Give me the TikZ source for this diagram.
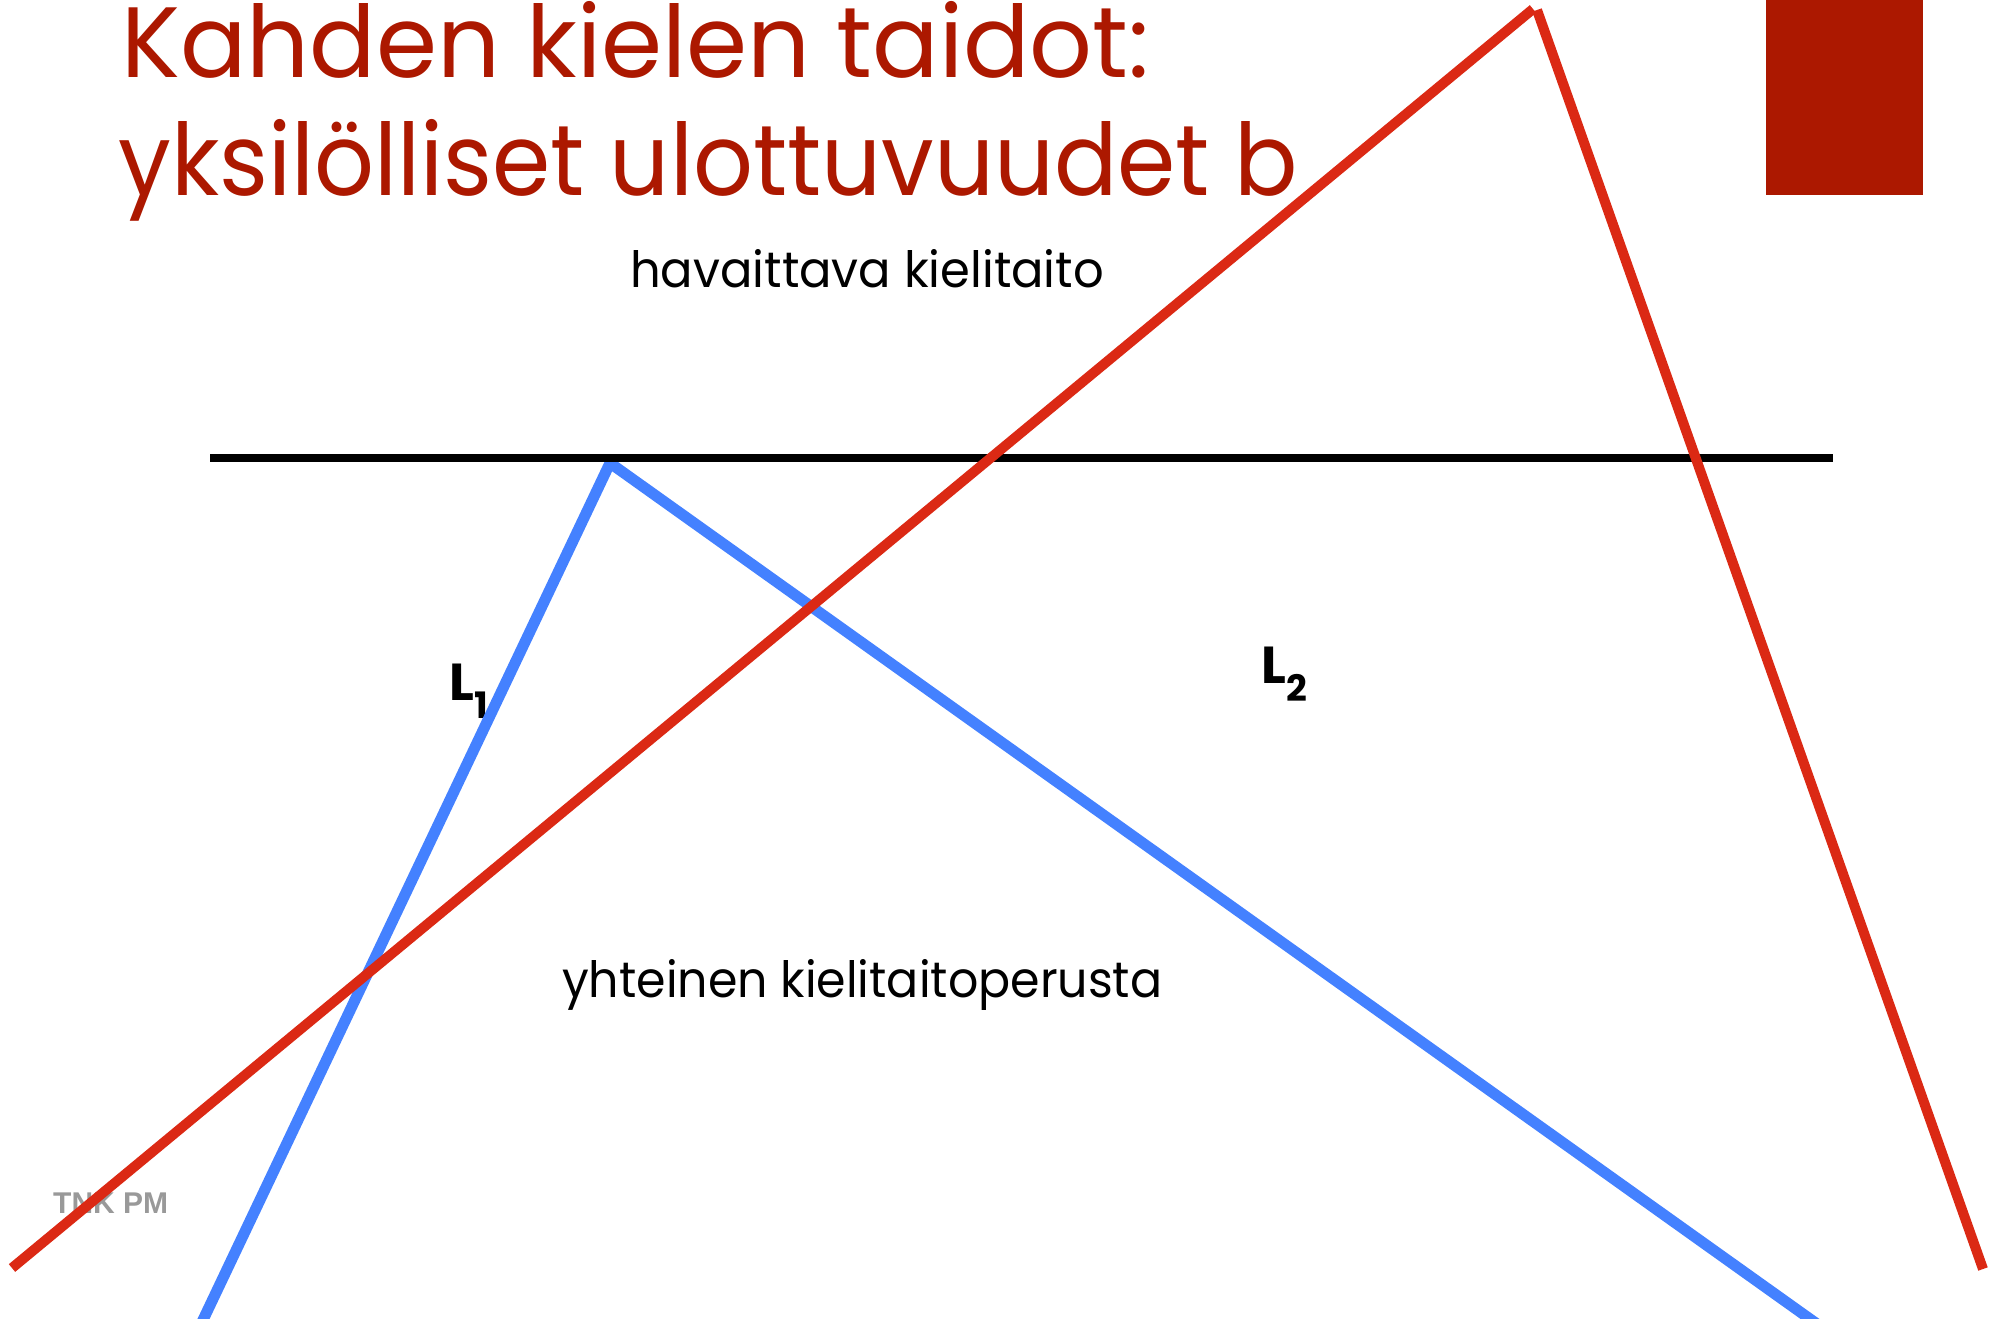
\documentclass[tikz,border=0pt]{standalone}
\usepackage{fontspec}
\usepackage{graphicx}
\setmainfont{Poppins}
\newfontfamily\tnkfont{Liberation Sans}
\definecolor{titlered}{HTML}{AC1800}
\definecolor{linered}{HTML}{DB2914}
\definecolor{lineblue}{HTML}{4481FF}
\definecolor{tnkgray}{HTML}{999999}
\begin{document}
\begin{tikzpicture}[x=1pt,y=-1pt,
  titletext/.style={anchor=base west,inner sep=0,text=titlered,font=\fontsize{100}{100}\selectfont},
  bodytext/.style={anchor=base west,inner sep=0,font=\fontsize{50}{50}\selectfont},
  lab/.style={anchor=base west,inner sep=0,font=\bfseries\fontsize{52}{52}\selectfont},
  redline/.style={draw=linered,line width=10pt},
  blueline/.style={draw=lineblue,line width=11pt,line join=miter},
  baseline/.style={draw=black,line width=8pt}]
\useasboundingbox (0,0) rectangle (2000,1318);
\clip (0,0) rectangle (2000,1318);
% corner block
\fill[titlered] (1766,0) rectangle (1923,195);
% title
\node[titletext] (t1) at (121,77) {\scalebox{0.984}[1]{Kahden kielen taidot:}};
\node[titletext] (t2) at (118,195) {\scalebox{0.938}[1]{yksilölliset ulottuvuudet b}};
% texts
\node[bodytext] (hav) at (630,287) {\scalebox{0.96}[1]{havaittava kielitaito}};
\node[bodytext] (yht) at (562,997) {\scalebox{0.95}[1]{yhteinen kielitaitoperusta}};
\node[lab] (l1) at (449,700) {L\textsubscript{1}};
\node[lab] (l2) at (1261,683) {L\textsubscript{2}};
\node[anchor=base west,inner sep=0,text=tnkgray,font=\tnkfont\bfseries\fontsize{30}{30}\selectfont] (tnk) at (53,1213) {TNK PM};
% coordinates
\coordinate (bl) at (165,1400);
\coordinate (ba) at (610,463);
\coordinate (br) at (1918,1396);
\coordinate (rl) at (12,1268);
\coordinate (ra1) at (1533,9);
\coordinate (ra2) at (1537,10);
\coordinate (rr) at (1983,1269);
\coordinate (hl) at (210,458);
\coordinate (hr) at (1833,458);
% lines
\draw[blueline] (bl) -- (ba) -- (br);
\draw[baseline] (hl) -- (hr);
\draw[redline] (rl) -- (ra1);
\draw[redline] (ra2) -- (rr);
\end{tikzpicture}
\end{document}
